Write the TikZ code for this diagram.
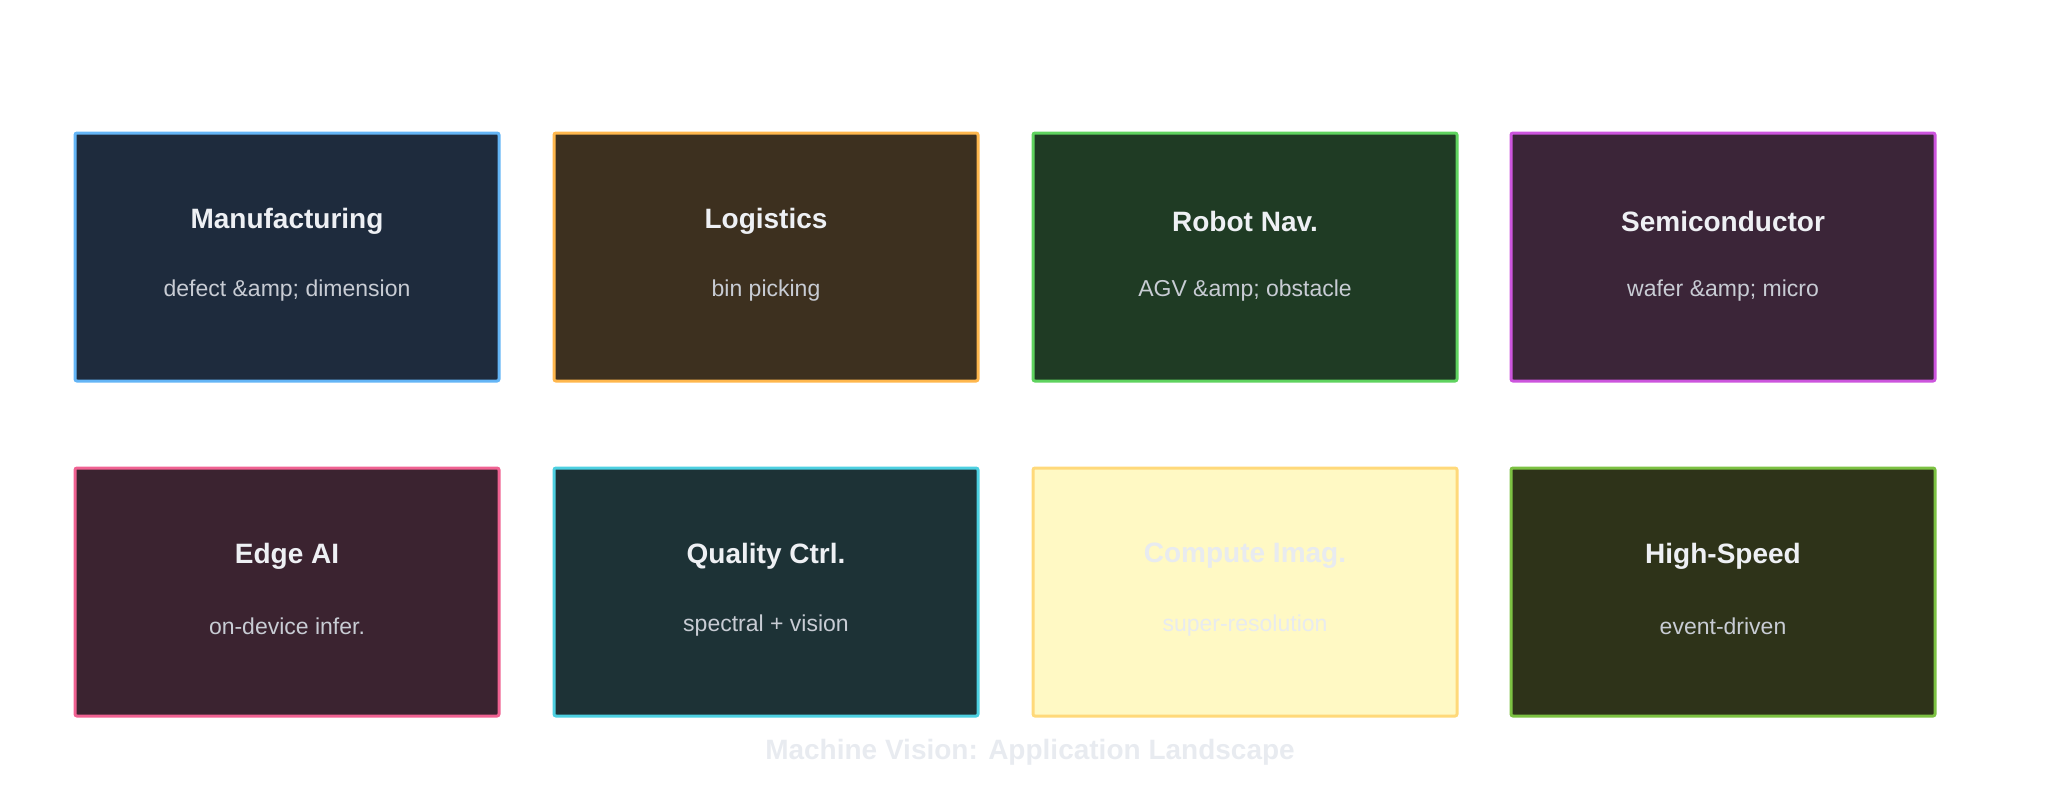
\documentclass[tikz,border=0pt]{standalone}
\usepackage{fontspec}
\setmainfont{Liberation Sans}
\usepackage{xcolor}
\usetikzlibrary{positioning}
\definecolor{titletext}{HTML}{EEF0F4}
\definecolor{subtext}{HTML}{C8CCD4}
\definecolor{faint}{HTML}{E8EBF0}
\definecolor{bManuf}{HTML}{64B5F6}\definecolor{fManuf}{HTML}{1E2B3D}
\definecolor{bLogis}{HTML}{FFB74D}\definecolor{fLogis}{HTML}{3D301F}
\definecolor{bRobot}{HTML}{5FD35F}\definecolor{fRobot}{HTML}{1F3B24}
\definecolor{bSemi}{HTML}{CC55DD}\definecolor{fSemi}{HTML}{3B2538}
\definecolor{bEdge}{HTML}{F06292}\definecolor{fEdge}{HTML}{3B2330}
\definecolor{bQual}{HTML}{4DD0E1}\definecolor{fQual}{HTML}{1D3236}
\definecolor{bComp}{HTML}{FFD97A}\definecolor{fComp}{HTML}{FFF9C4}
\definecolor{bSpeed}{HTML}{7CC142}\definecolor{fSpeed}{HTML}{2E3319}
\tikzset{
  card/.style 2 args={draw=#1,fill=#2,line width=1.5pt,rounded corners=1pt,
    minimum width=212pt,minimum height=124pt},
  head/.style={font=\fontsize{14}{16}\selectfont\bfseries,text=titletext},
  sub/.style={font=\fontsize{11.5}{14}\selectfont,text=subtext}
}
\begin{document}
\begin{tikzpicture}[x=0.5pt,y=-0.5pt]
\useasboundingbox (0,0) rectangle (2048,810);
% cards: name/x/y/border/fill/title/subtitle
\foreach \n/\x/\y/\b/\f/\t/\s in {
  manuf/287/257/bManuf/fManuf/Manufacturing/defect \&amp; dimension,
  logis/766/257/bLogis/fLogis/Logistics/bin picking,
  robot/1245/257/bRobot/fRobot/Robot Nav./AGV \&amp; obstacle,
  semi/1723/257/bSemi/fSemi/Semiconductor/wafer \&amp; micro,
  edge/287/592/bEdge/fEdge/Edge AI/on-device infer.,
  qual/766/592/bQual/fQual/Quality Ctrl./spectral + vision,
  speed/1723/592/bSpeed/fSpeed/High-Speed/event-driven}{
  \node[card={\b}{\f}] (\n) at (\x,\y) {};
  \node[head] (\n-t) at ([yshift=18pt]\n.center) {\t};
  \node[sub] (\n-s) at ([yshift=-17pt]\n.center) {\s};
}
\node[card={bComp}{fComp}] (comp) at (1245,592) {};
\node[head,text=faint] (comp-t) at ([yshift=18pt]comp.center) {Compute Imag.};
\node[sub,text=faint] (comp-s) at ([yshift=-17pt]comp.center) {super-resolution};
% caption
\node[head,text=faint] (caption) at (1030,752) {Machine Vision: Application Landscape};
\end{tikzpicture}
\end{document}
